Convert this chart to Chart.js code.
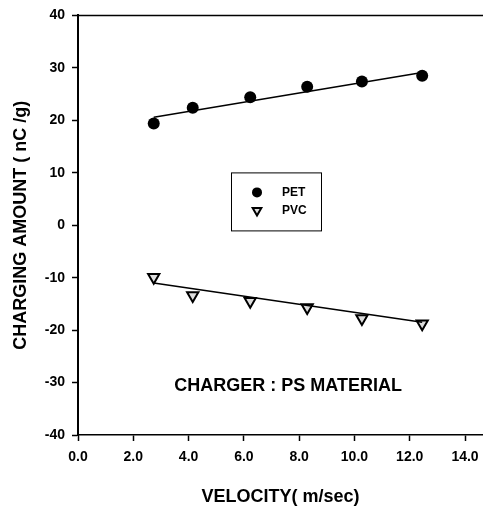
<!DOCTYPE html>
<html>
<head>
<meta charset="utf-8">
<script src="https://cdn.jsdelivr.net/npm/chart.js@4.4.1/dist/chart.umd.min.js"></script>
<style>
  html, body { margin: 0; padding: 0; background: #fff; }
  #wrap { width: 483px; height: 506px; }
</style>
</head>
<body>
<div id="wrap"><canvas id="chart" width="483" height="506"></canvas></div>
<script>
// values
const velocity = [2.74, 4.15, 6.23, 8.29, 10.27, 12.45];
const pet = [19.4, 22.4, 24.4, 26.4, 27.4, 28.5];
const pvc = [-9.9, -13.4, -14.5, -15.7, -17.8, -18.8];

// fitted lines (end points)
const fitX = [2.74, 12.45];
const petFit = [20.6, 29.1];
const pvcFit = [-11.0, -18.5];

const xTicks = [0, 2, 4, 6, 8, 10, 12, 14];
const yTicks = [-40, -30, -20, -10, 0, 10, 20, 30, 40];

const FONT = "Arial, 'Liberation Sans', sans-serif";

const toPoints = (xs, ys) => xs.map((x, i) => ({ x: x, y: ys[i] }));

// top frame line, inside legend box and the note text
const extrasPlugin = {
  id: "extras",
  afterDraw(chart) {
    const ctx = chart.ctx;
    const area = chart.chartArea;
    const xs = chart.scales.x;
    const ys = chart.scales.y;
    ctx.save();

    // top frame line
    ctx.strokeStyle = "#000";
    ctx.lineWidth = 1.5;
    ctx.beginPath();
    ctx.moveTo(area.left, area.top);
    ctx.lineTo(area.right, area.top);
    ctx.stroke();

    // legend box
    const bx = area.left + 153;
    const by = area.top + 157;
    ctx.lineWidth = 1;
    ctx.strokeRect(bx + 0.5, by + 0.5, 90, 58);

    // PET marker
    ctx.fillStyle = "#000";
    ctx.beginPath();
    ctx.arc(bx + 26, by + 20, 5, 0, Math.PI * 2);
    ctx.fill();

    // PVC marker
    const tx = bx + 26, ty = by + 38, r = 5;
    ctx.fillStyle = "#ddd";
    ctx.lineWidth = 2;
    ctx.beginPath();
    ctx.moveTo(tx - r * 0.866, ty - r * 0.5);
    ctx.lineTo(tx + r * 0.866, ty - r * 0.5);
    ctx.lineTo(tx, ty + r);
    ctx.closePath();
    ctx.fill();
    ctx.stroke();

    ctx.fillStyle = "#000";
    ctx.font = "bold 12px " + FONT;
    ctx.textBaseline = "middle";
    ctx.textAlign = "left";
    ctx.fillText("PET", bx + 51, by + 20);
    ctx.fillText("PVC", bx + 51, by + 38);

    // note
    ctx.font = "bold 18px " + FONT;
    ctx.textAlign = "center";
    ctx.fillText("CHARGER : PS MATERIAL", xs.getPixelForValue(7.6), ys.getPixelForValue(-30.6));

    ctx.restore();
  },
};

const config = {
  type: "scatter",
  data: {
    datasets: [
      {
        label: "PET fit",
        type: "line",
        data: toPoints(fitX, petFit),
        borderColor: "#000",
        borderWidth: 1.5,
        pointRadius: 0,
        fill: false,
      },
      {
        label: "PVC fit",
        type: "line",
        data: toPoints(fitX, pvcFit),
        borderColor: "#000",
        borderWidth: 1.5,
        pointRadius: 0,
        fill: false,
      },
      {
        label: "PET",
        data: toPoints(velocity, pet),
        pointStyle: "circle",
        pointRadius: 6,
        backgroundColor: "#000",
        borderColor: "#000",
        borderWidth: 0,
      },
      {
        label: "PVC",
        data: toPoints(velocity, pvc),
        pointStyle: "triangle",
        rotation: 180,
        pointRadius: 6.5,
        backgroundColor: "#ddd",
        borderColor: "#000",
        borderWidth: 2,
      },
    ],
  },
  options: {
    responsive: false,
    animation: false,
    layout: { autoPadding: false, padding: { top: 15, right: 0, bottom: 0, left: 0 } },
    plugins: {
      legend: { display: false },
      tooltip: { enabled: false },
    },
    scales: {
      x: {
        type: "linear",
        min: 0,
        max: 14.65,
        afterBuildTicks: (scale) => {
          scale.ticks = xTicks.map((v) => ({ value: v }));
        },
        afterFit: (scale) => {
          scale.height = 71;
          scale.paddingLeft = 0;
          scale.paddingRight = 0;
        },
        border: { display: true, color: "#000", width: 1.5 },
        grid: { drawOnChartArea: false, color: "#000", tickLength: 6, tickWidth: 1.5 },
        ticks: {
          color: "#000",
          padding: 8,
          font: { family: FONT, size: 14, weight: "bold" },
          callback: (v) => v.toFixed(1),
        },
        title: {
          display: true,
          text: "VELOCITY( m/sec)",
          color: "#000",
          font: { family: FONT, size: 18, weight: "bold", lineHeight: 1 },
          padding: { top: 0, bottom: 0 },
        },
      },
      y: {
        type: "linear",
        min: -40,
        max: 40,
        afterBuildTicks: (scale) => {
          scale.ticks = yTicks.map((v) => ({ value: v }));
        },
        afterFit: (scale) => {
          scale.width = 78;
        },
        border: { display: true, color: "#000", width: 2 },
        grid: { drawOnChartArea: false, color: "#000", tickLength: 6, tickWidth: 1.5 },
        ticks: {
          color: "#000",
          padding: 7,
          font: { family: FONT, size: 14, weight: "bold" },
        },
        title: {
          display: true,
          text: "CHARGING AMOUNT ( nC /g)",
          color: "#000",
          font: { family: FONT, size: 18, weight: "bold", lineHeight: 1 },
          padding: { top: 12, bottom: 0 },
        },
      },
    },
  },
  plugins: [extrasPlugin],
};

const ctx = document.getElementById("chart").getContext("2d");
const chart = new Chart(ctx, config);
</script>
</body>
</html>
